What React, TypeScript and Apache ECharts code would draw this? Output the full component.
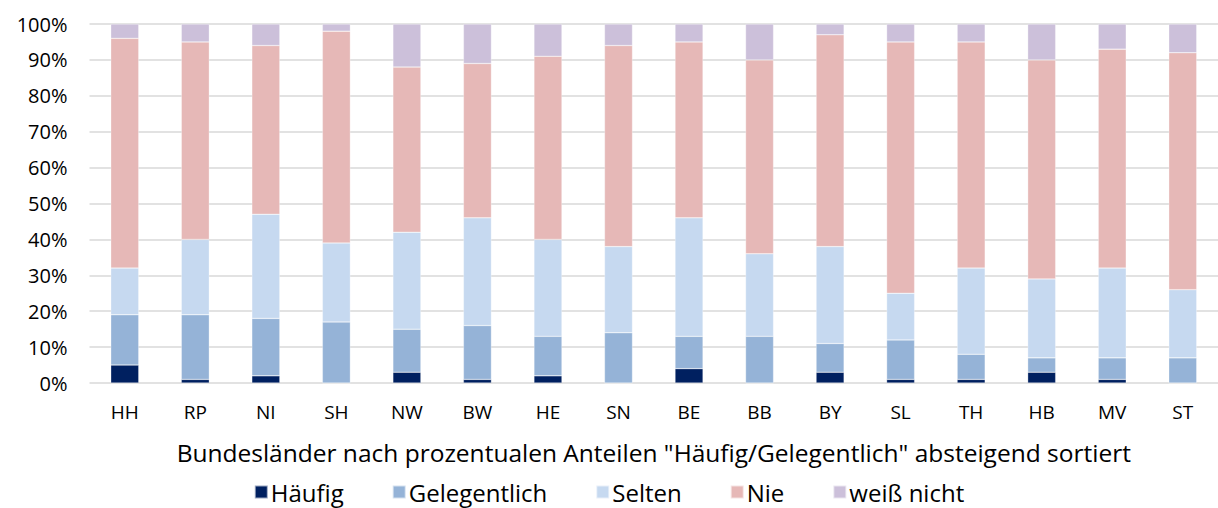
import React, { useEffect, useRef } from "react";
import * as echarts from "echarts";

const categories = ["HH", "RP", "NI", "SH", "NW", "BW", "HE", "SN", "BE", "BB", "BY", "SL", "TH", "HB", "MV", "ST"];
const haeufig = [5, 1, 2, 0, 3, 1, 2, 0, 4, 0, 3, 1, 1, 3, 1, 0];
const gelegentlich = [14, 18, 16, 17, 12, 15, 11, 14, 9, 13, 8, 11, 7, 4, 6, 7];
const selten = [13, 21, 29, 22, 27, 30, 27, 24, 33, 23, 27, 13, 24, 22, 25, 19];
const nie = [64, 55, 47, 59, 46, 43, 51, 56, 49, 54, 59, 70, 63, 61, 61, 66];
const weissNicht = [4, 5, 6, 2, 12, 11, 9, 6, 5, 10, 3, 5, 5, 10, 7, 8];
const yTicks = [0, 10, 20, 30, 40, 50, 60, 70, 80, 90, 100];

const seriesDefs = [
  { name: "Häufig", data: haeufig, color: "#002060" },
  { name: "Gelegentlich", data: gelegentlich, color: "#95B3D7" },
  { name: "Selten", data: selten, color: "#C6D9F0" },
  { name: "Nie", data: nie, color: "#E6B8B7" },
  { name: "weiß nicht", data: weissNicht, color: "#CCC0DA" },
];

const font = "'Open Sans', 'Noto Sans', sans-serif";

export default function App() {
  const ref = useRef<HTMLDivElement>(null);
  useEffect(() => {
    if (!ref.current) return;
    const chart = echarts.init(ref.current, null, { renderer: "svg" });
    chart.setOption({
      animation: false,
      backgroundColor: "#ffffff",
      grid: { left: 89.5, top: 24, width: 1140, height: 359, containLabel: false },
      legend: {
        top: 480,
        left: "center",
        padding: 0,
        itemWidth: 13,
        itemHeight: 13,
        itemGap: 48,
        icon: "rect",
        textStyle: { fontFamily: font, fontSize: 24, lineHeight: 24, color: "#000", padding: [0, 0, 0, -2] },
        data: seriesDefs.map((s) => s.name),
      },
      xAxis: {
        type: "category",
        data: categories,
        axisLine: { show: false },
        axisTick: { show: false },
        axisLabel: { fontFamily: font, fontSize: 19, color: "#000", margin: 19 },
        name: 'Bundesländer nach prozentualen Anteilen "Häufig/Gelegentlich" absteigend sortiert',
        nameLocation: "middle",
        nameGap: 57,
        nameTextStyle: { fontFamily: font, fontSize: 24.5, color: "#000" },
      },
      yAxis: {
        type: "value",
        min: 0,
        max: 100,
        interval: 10,
        axisLine: { show: false },
        axisTick: { show: false },
        splitLine: { lineStyle: { color: "#D9D9D9", width: 1.5 } },
        axisLabel: {
          fontFamily: font,
          fontSize: 20,
          color: "#000",
          margin: 22,
          formatter: (v: number) => (yTicks.includes(v) ? v + "%" : ""),
        },
      },
      series: seriesDefs.map((s) => ({
        name: s.name,
        type: "bar",
        stack: "total",
        barWidth: 28,
        data: s.data,
        itemStyle: { color: s.color, borderColor: "rgba(255,255,255,0.6)", borderWidth: 0.5 },
      })),
    });
    return () => chart.dispose();
  }, []);
  return <div ref={ref} style={{ position: "fixed", left: 0, top: 0, width: 1218, height: 508 }} />;
}
